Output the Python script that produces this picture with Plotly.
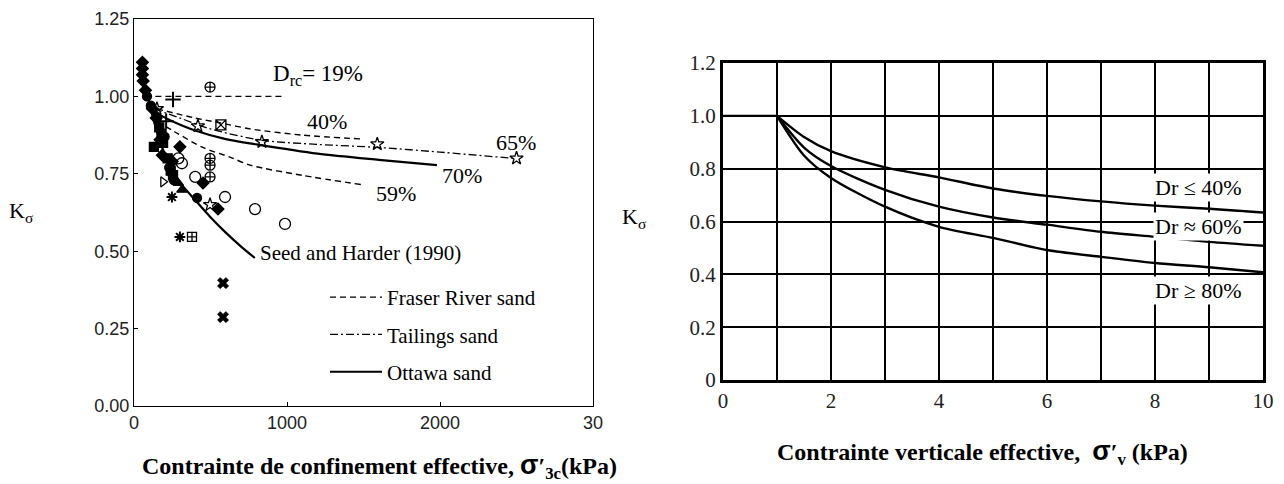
import plotly.graph_objects as go

# ---------------- Left chart data ----------------
seed_x = [85, 130, 180, 250, 320, 400, 500, 600, 700, 790]
seed_k = [1.01, 0.92, 0.84, 0.76, 0.71, 0.665, 0.61, 0.56, 0.515, 0.478]

fraser19_x = [140, 970]
fraser19_k = [1.0, 1.0]
fraser40_x = [150, 400, 560, 760, 1100, 1500]
fraser40_k = [0.96, 0.93, 0.915, 0.895, 0.875, 0.862]
fraser59_x = [150, 268, 450, 627, 758, 1100, 1500]
fraser59_k = [0.92, 0.885, 0.835, 0.804, 0.778, 0.745, 0.714]

tailings_x = [130, 300, 500, 840, 1200, 1600, 2000, 2480]
tailings_k = [0.96, 0.93, 0.895, 0.858, 0.845, 0.835, 0.82, 0.80]

ottawa_x = [130, 250, 400, 600, 800, 1200, 1600, 1980]
ottawa_k = [0.95, 0.92, 0.89, 0.862, 0.845, 0.815, 0.795, 0.778]

# scatter test points (x, K) grouped by symbol
pts_diamond_x = [55, 55, 55, 60, 75, 300, 451, 549, 250, 170, 120, 145, 185]
pts_diamond_k = [1.11, 1.09, 1.07, 1.05, 1.02, 0.837, 0.72, 0.636, 0.79, 0.86, 0.96, 0.93, 0.81]
pts_circle_x = [85, 250, 412, 150, 200, 230, 110, 260]
pts_circle_k = [1.0, 0.75, 0.672, 0.93, 0.87, 0.77, 0.97, 0.73]
pts_square_x = [130, 255, 180, 220, 165, 190, 240]
pts_square_k = [0.837, 0.746, 0.88, 0.80, 0.90, 0.85, 0.76]
pts_ocircle_x = [313, 400, 595, 791, 987, 290]
pts_ocircle_k = [0.784, 0.74, 0.675, 0.636, 0.588, 0.80]
pts_ocross_x = [497, 497, 497, 497]
pts_ocross_k = [1.03, 0.80, 0.778, 0.74]
pts_sqx_x = [568]
pts_sqx_k = [0.908]
pts_sqcross_x = [379]
pts_sqcross_k = [0.546]
pts_star_x = [418, 836, 1590, 2500, 150, 497]
pts_star_k = [0.904, 0.853, 0.846, 0.80, 0.96, 0.65]
pts_plus_x = [255, 210]
pts_plus_k = [0.99, 0.92]
pts_tri_r_x = [190]
pts_tri_r_k = [0.724]
pts_tri_up_x = [313, 290]
pts_tri_up_k = [0.698, 0.72]
pts_aster_x = [248, 300]
pts_aster_k = [0.675, 0.546]
pts_x_x = [582, 582]
pts_x_k = [0.397, 0.287]

left_xticks = [0, 1000, 2000, 3000]
left_xticktext = ["0", "1000", "2000", "30"]
left_yticks = [0, 0.25, 0.5, 0.75, 1.0, 1.25]
left_yticktext = ["0.00", "0.25", "0.50", "0.75", "1.00", "1.25"]

# ---------------- Right chart data ----------------
flat_x = [0, 1]
flat_k = [1.0, 1.0]
curve_x = [1, 1.5, 2, 3, 4, 5, 6, 7, 8, 9, 10]
dr40_k = [1.0, 0.92, 0.866, 0.805, 0.767, 0.725, 0.697, 0.676, 0.66, 0.648, 0.634]
dr60_k = [1.0, 0.88, 0.81, 0.72, 0.656, 0.615, 0.588, 0.561, 0.542, 0.523, 0.508]
dr80_k = [1.0, 0.85, 0.765, 0.656, 0.58, 0.538, 0.492, 0.466, 0.443, 0.427, 0.408]

right_xticks = [0, 2, 4, 6, 8, 10]
right_yticks = [0, 0.2, 0.4, 0.6, 0.8, 1.0, 1.2]
right_yticktext = ["0", "0.2", "0.4", "0.6", "0.8", "1.0", "1.2"]

SERIF = "Liberation Serif, Times New Roman, serif"
SANS = "Liberation Sans, Arial, sans-serif"

fig = go.Figure()

def line(x, y, dash, width, name=None, show=False, group=None, xa="x", ya="y"):
    fig.add_trace(go.Scatter(
        x=x, y=y, mode="lines", line=dict(color="black", width=width, dash=dash, shape="spline", smoothing=0.8),
        name=name, showlegend=show, legendgroup=group, xaxis=xa, yaxis=ya, hoverinfo="skip"))

line(fraser19_x, fraser19_k, "6px,4px", 1.4, "Fraser River sand", True, "g1")
line(fraser40_x, fraser40_k, "6px,4px", 1.4, group="g1")
line(fraser59_x, fraser59_k, "6px,4px", 1.4, group="g1")
line(tailings_x, tailings_k, "8px,3px,2px,3px", 1.3, "Tailings sand", True, "g2")
line(ottawa_x, ottawa_k, "solid", 2.2, "Ottawa sand", True, "g3")
line(seed_x, seed_k, "solid", 2.2, group="g3")

def pts(x, y, symbol, size, lw=1.3):
    fig.add_trace(go.Scatter(
        x=x, y=y, mode="markers", showlegend=False, hoverinfo="skip",
        marker=dict(symbol=symbol, size=size, color="black", line=dict(color="black", width=lw))))

pts(pts_diamond_x, pts_diamond_k, "diamond", 9)
pts(pts_circle_x, pts_circle_k, "circle", 9)
pts(pts_square_x, pts_square_k, "square", 9)
pts(pts_ocircle_x, pts_ocircle_k, "circle-open", 11)
pts(pts_ocross_x, pts_ocross_k, "circle-cross-open", 10)
pts(pts_sqx_x, pts_sqx_k, "square-x-open", 10)
pts(pts_sqcross_x, pts_sqcross_k, "square-cross-open", 9)
pts(pts_star_x, pts_star_k, "star-open", 10)
pts(pts_plus_x, pts_plus_k, "cross-thin-open", 11, 2)
pts(pts_tri_r_x, pts_tri_r_k, "triangle-right-open", 9)
pts(pts_tri_up_x, pts_tri_up_k, "triangle-up", 9)
pts(pts_aster_x, pts_aster_k, "asterisk-open", 9, 2)
pts(pts_x_x, pts_x_k, "x", 10, 0.5)

# right chart
line(flat_x, flat_k, "solid", 2.4, xa="x2", ya="y2")
line(curve_x, dr40_k, "solid", 2.4, xa="x2", ya="y2")
line(curve_x, dr60_k, "solid", 2.4, xa="x2", ya="y2")
line(curve_x, dr80_k, "solid", 2.4, xa="x2", ya="y2")

ann = []
def text(x, y, t, size=21, xa="x", ya="y", anchor="center", bg=None, font=SERIF, bold=False):
    ann.append(dict(x=x, y=y, xref=xa, yref=ya, text=("<b>%s</b>" % t) if bold else t,
                    showarrow=False, xanchor=anchor, yanchor="middle",
                    font=dict(family=font, size=size, color="black"),
                    bgcolor=bg))

text(1203, 1.069, "D<sub>rc</sub>= 19%", 23)
text(1261, 0.92, "40%", 22)
text(2497, 0.85, "65%", 22)
text(2144, 0.743, "70%", 22)
text(1712, 0.688, "59%", 22)
text(810, 0.494, "Seed and Harder (1990)", 21, anchor="left")

text(8.8, 0.73, "Dr ≤ 40%", 22, "x2", "y2", bg="white")
text(8.8, 0.58, "Dr ≈ 60%", 22, "x2", "y2", bg="white")
text(8.8, 0.34, "Dr ≥ 80%", 22, "x2", "y2", bg="white")

# axis titles
SIG = "<span style='font-family:Liberation Sans, Arial, sans-serif;font-size:27px'>σ</span>"
text(22 / 1284, 1 - 212 / 484, "K<sub>σ</sub>", 22, "paper", "paper")
text(634 / 1284, 1 - 218 / 484, "K<sub>σ</sub>", 22, "paper", "paper")
text(380 / 1284, 1 - 466 / 484, "Contrainte de confinement effective, " + SIG + "′<sub>3c</sub>(kPa)", 24, "paper", "paper", bold=True)
text(982 / 1284, 1 - 452 / 484, "Contrainte verticale effective,  " + SIG + "′<sub>v</sub> (kPa)", 24, "paper", "paper", bold=True)

fig.update_layout(
    width=1284, height=484,
    margin=dict(l=0, r=0, t=0, b=0),
    paper_bgcolor="white", plot_bgcolor="white",
    annotations=ann,
    legend=dict(x=325 / 1284, y=1 - 277 / 484, xanchor="left", yanchor="top",
                bgcolor="rgba(0,0,0,0)", borderwidth=0, itemwidth=52,
                tracegroupgap=7, font=dict(family=SERIF, size=21, color="black")),
    xaxis=dict(domain=[134 / 1284, 593 / 1284], range=[0, 3000], tickvals=left_xticks,
               ticktext=left_xticktext, showgrid=False, zeroline=False, showline=True,
               linecolor="black", linewidth=1.3, mirror=True, ticks="inside", ticklen=4,
               tickcolor="black", automargin=False,
               tickfont=dict(family=SANS, size=18, color="#222")),
    yaxis=dict(domain=[78 / 484, 465 / 484], range=[0, 1.25], tickvals=left_yticks,
               ticktext=left_yticktext, showgrid=False, zeroline=False, showline=True,
               linecolor="black", linewidth=1.3, mirror=True, ticks="inside", ticklen=4,
               tickcolor="black", automargin=False,
               tickfont=dict(family=SANS, size=18, color="#222")),
    xaxis2=dict(domain=[723 / 1284, 1263 / 1284], range=[0, 10], tickvals=right_xticks,
                showgrid=True, gridcolor="black", gridwidth=1.5, zeroline=False,
                minor=dict(dtick=1, showgrid=True, gridcolor="black", gridwidth=1.5),
                showline=True, linecolor="black", linewidth=3, mirror=True, ticks="",
                anchor="y2", automargin=False,
                tickfont=dict(family=SERIF, size=21, color="#222")),
    yaxis2=dict(domain=[104 / 484, 421 / 484], range=[0, 1.2], tickvals=right_yticks,
                ticktext=right_yticktext, showgrid=True, gridcolor="black", gridwidth=1.5,
                zeroline=False, showline=True, linecolor="black", linewidth=3, mirror=True,
                ticks="", anchor="x2", automargin=False,
                tickfont=dict(family=SERIF, size=21, color="#222")),
)

fig.write_html("out.html", config={"displayModeBar": False},
               post_script="document.body.style.margin='0';")
